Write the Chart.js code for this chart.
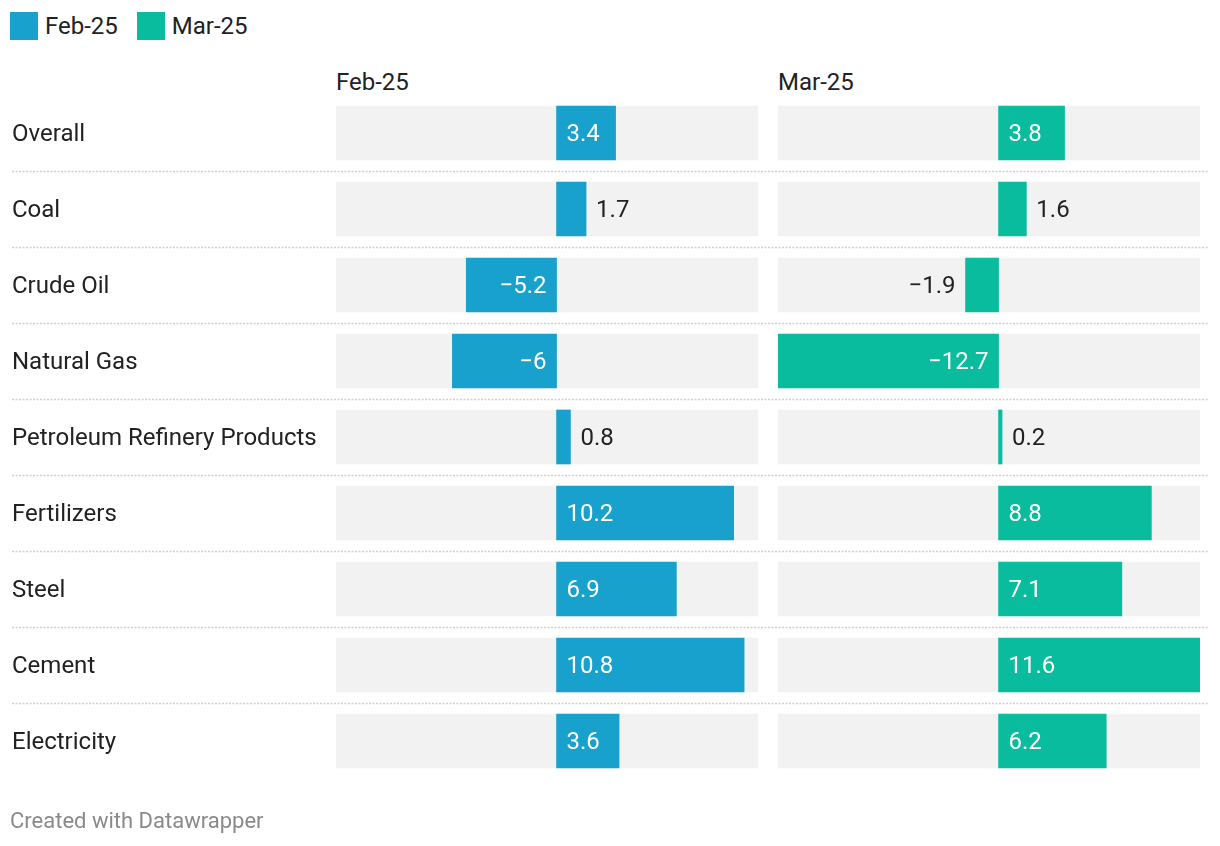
<!DOCTYPE html>
<html>
<head>
<meta charset="utf-8">
<script src="https://cdn.jsdelivr.net/npm/chart.js@4/dist/chart.umd.min.js"></script>
<style>
    body { margin: 0; background: #fff; font-family: Roboto, sans-serif; }
    #wrap { position: relative; width: 1220px; height: 846px; overflow: hidden; }
    canvas { position: absolute; top: 0; }
    #chart-feb { left: 0; }
    #chart-mar { left: 768px; }
    .legend { position: absolute; left: 10px; top: 12px; display: flex; align-items: center; font-size: 24px; line-height: 28px; color: #222; }
    .legend span.box { display: inline-block; width: 28px; height: 28px; margin-right: 7px; }
    .legend span.item { display: flex; align-items: center; margin-right: 19px; }
    .head { position: absolute; top: 68px; font-size: 24px; line-height: 28px; color: #222; }
    .footer { position: absolute; left: 10px; top: 808px; font-size: 22px; line-height: 26px; color: #8a8a8a; }
</style>
</head>
<body>
<div id="wrap">
    <div class="legend" id="legend"></div>
    <div class="head" style="left:336px">Feb-25</div>
    <div class="head" style="left:778px">Mar-25</div>
    <canvas id="chart-feb" width="768" height="846"></canvas>
    <canvas id="chart-mar" width="452" height="846"></canvas>
    <div class="footer">Created with Datawrapper</div>
</div>
<script>
let categories = ["Overall", "Coal", "Crude Oil", "Natural Gas", "Petroleum Refinery Products",
    "Fertilizers", "Steel", "Cement", "Electricity"];
let seriesNames = ["Feb-25", "Mar-25"];
let feb25Values = [3.4, 1.7, -5.2, -6, 0.8, 10.2, 6.9, 10.8, 3.6];
let mar25Values = [3.8, 1.6, -1.9, -12.7, 0.2, 8.8, 7.1, 11.6, 6.2];
let xDomain = [-12.7, 11.6];

let seriesColors = ["#18a1cd", "#09bc9e"];

// legend
let legendBox = document.getElementById("legend");
seriesNames.forEach((name, i) => {
    let item = document.createElement("span");
    item.className = "item";
    item.innerHTML = '<span class="box" style="background:' + seriesColors[i] + '"></span>' + name;
    legendBox.appendChild(item);
});

function formatValue(v) {
    return (v < 0 ? "\u2212" : "") + Math.abs(v);
}

// dotted lines between rows, across the whole canvas
const separatorPlugin = {
    id: "separators",
    beforeDatasetsDraw(chart, args, opts) {
        const ctx = chart.ctx;
        const y = chart.scales.y;
        ctx.save();
        ctx.strokeStyle = "#cfcfcf";
        ctx.lineWidth = 1.5;
        ctx.setLineDash([2, 1.5]);
        for (let i = 0; i < categories.length - 1; i++) {
            let py = Math.round((y.getPixelForValue(i) + y.getPixelForValue(i + 1)) / 2) + 0.5;
            ctx.beginPath();
            ctx.moveTo(opts.from, py);
            ctx.lineTo(opts.to, py);
            ctx.stroke();
        }
        ctx.restore();
    },
};

// value labels, inside the bar if they fit
const valueLabelPlugin = {
    id: "valueLabels",
    afterDatasetsDraw(chart) {
        const ctx = chart.ctx;
        const meta = chart.getDatasetMeta(0);
        const values = chart.data.datasets[0].data;
        ctx.save();
        ctx.font = "24px Roboto";
        ctx.textBaseline = "middle";
        meta.data.forEach((bar, i) => {
            let v = values[i];
            let text = formatValue(v);
            let tw = ctx.measureText(text).width;
            let len = Math.abs(bar.x - bar.base);
            let inside = len > tw + 20;
            let ty = bar.y + 1.5;
            if (v >= 0) {
                ctx.textAlign = "left";
                ctx.fillStyle = inside ? "#fff" : "#222";
                ctx.fillText(text, inside ? bar.base + 10 : bar.x + 10, ty);
            } else {
                ctx.textAlign = "right";
                ctx.fillStyle = inside ? "#fff" : "#222";
                ctx.fillText(text, inside ? bar.base - 10 : bar.x - 10, ty);
            }
        });
        ctx.restore();
    },
};

function makePanel(canvasId, values, color, showLabels, padding, sepRange) {
    return new Chart(document.getElementById(canvasId), {
        type: "bar",
        data: {
            labels: categories,
            datasets: [
                {
                    data: values,
                    backgroundColor: color,
                    borderWidth: 0,
                    barThickness: 54,
                    grouped: false,
                    order: 1,
                },
                {
                    data: categories.map(() => xDomain),
                    backgroundColor: "#f2f2f2",
                    borderWidth: 0,
                    barThickness: 54,
                    grouped: false,
                    order: 2,
                },
            ],
        },
        options: {
            indexAxis: "y",
            responsive: false,
            animation: false,
            layout: { padding: padding },
            scales: {
                x: {
                    display: false,
                    min: xDomain[0],
                    max: xDomain[1],
                },
                y: {
                    display: showLabels,
                    grid: { display: false },
                    border: { display: false },
                    ticks: {
                        crossAlign: "far",
                        padding: 0,
                        labelOffset: 2,
                        color: "#222",
                        font: { family: "Roboto", size: 24 },
                    },
                    afterFit: (scale) => { if (showLabels) scale.width = 324; },
                },
            },
            plugins: {
                legend: { display: false },
                tooltip: { enabled: false },
                separators: sepRange,
            },
        },
        plugins: [separatorPlugin, valueLabelPlugin],
    });
}

makePanel("chart-feb", feb25Values, seriesColors[0], true,
    { top: 95, bottom: 67, left: 12, right: 10 }, { from: 12, to: 768 });
makePanel("chart-mar", mar25Values, seriesColors[1], false,
    { top: 95, bottom: 67, left: 10, right: 20 }, { from: 0, to: 440 });
</script>
</body>
</html>
